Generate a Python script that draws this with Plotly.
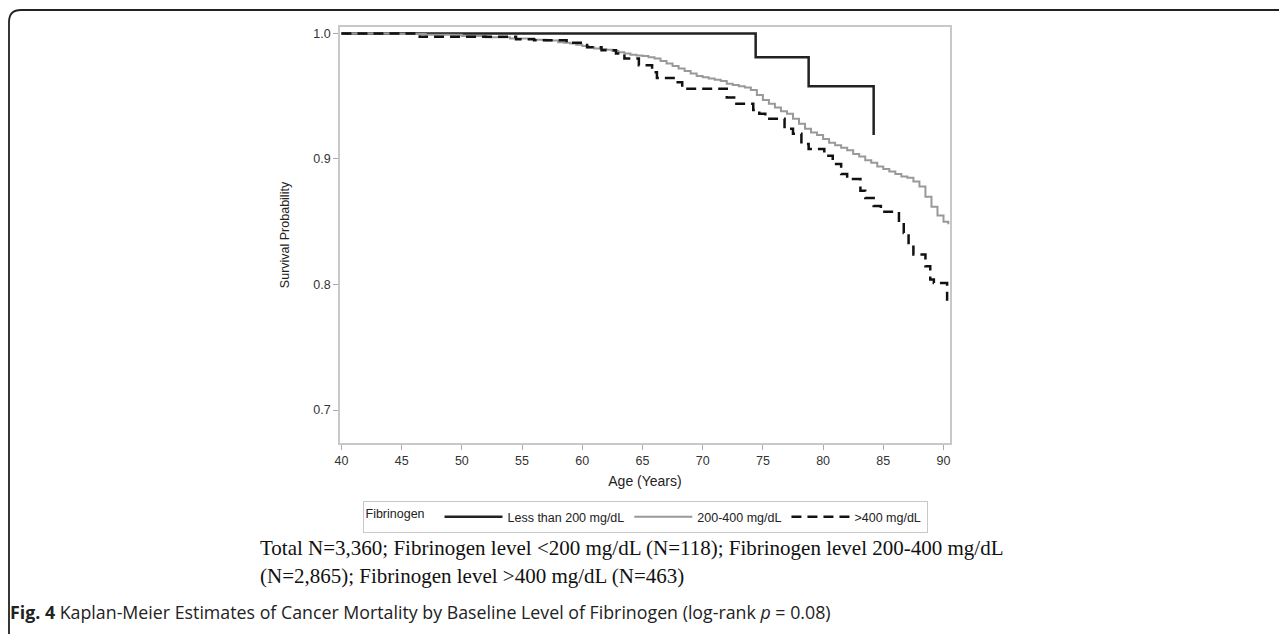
import plotly.graph_objects as go

# ---------------- data ----------------
age_low = [40, 74.4, 78.8, 84.2]
surv_low = [1.0, 0.981, 0.958, 0.919]

age_mid = [40, 44, 47, 50, 52, 54, 56, 57, 58, 58.5, 59, 59.5, 60, 60.5, 61, 61.5, 62, 62.5,
           63, 63.5, 64, 64.5, 65, 65.5, 66, 66.5, 67, 67.5, 68, 68.5, 69, 69.5, 70, 70.5,
           71, 71.5, 72, 72.5, 73, 73.5, 74, 74.5, 75, 75.5, 76, 76.5, 77, 77.5, 78, 78.5,
           79, 79.5, 80, 80.5, 81, 81.5, 82, 82.5, 83, 83.5, 84, 84.5, 85, 85.5, 86, 86.5,
           87, 87.5, 88, 88.5, 89, 89.5, 90, 90.4]
surv_mid = [1.0, 0.9995, 0.999, 0.998, 0.997, 0.996, 0.995, 0.9943, 0.993, 0.9925, 0.992, 0.991,
            0.990, 0.989, 0.988, 0.9875, 0.987, 0.986, 0.985, 0.984, 0.983, 0.9825, 0.982, 0.981,
            0.980, 0.978, 0.976, 0.974, 0.972, 0.970, 0.968, 0.966, 0.965, 0.964, 0.963, 0.962,
            0.960, 0.959, 0.958, 0.957, 0.955, 0.951, 0.947, 0.944, 0.941, 0.938, 0.936, 0.932,
            0.928, 0.924, 0.921, 0.919, 0.916, 0.913, 0.911, 0.909, 0.907, 0.904, 0.902, 0.899,
            0.897, 0.894, 0.892, 0.890, 0.888, 0.886, 0.885, 0.882, 0.878, 0.870, 0.862, 0.855,
            0.850, 0.848]

age_high = [40, 46.5, 54.5, 56.0, 58.7, 60.4, 61.6, 62.8, 63.5, 64.7, 65.8, 66.2, 67.8, 68.3,
            72.0, 72.8, 74.2, 74.7, 75.2, 76.8, 77.5, 78.2, 78.8, 80.1, 80.8, 81.5, 82.0,
            83.1, 83.5, 84.2, 84.8, 86.3, 86.7, 87.1, 87.5, 88.5, 88.9, 89.2, 90.3, 90.4]
surv_high = [1.0, 0.9973, 0.9954, 0.9946, 0.9925, 0.989, 0.9866, 0.984, 0.980, 0.9746, 0.969,
             0.9645, 0.961, 0.956, 0.949, 0.944, 0.939, 0.936, 0.932, 0.924, 0.920, 0.912,
             0.908, 0.9026, 0.896, 0.888, 0.884, 0.8746, 0.869, 0.8626, 0.858, 0.849, 0.841,
             0.832, 0.824, 0.8146, 0.804, 0.8013, 0.788, 0.788]

x_ticks = [40, 45, 50, 55, 60, 65, 70, 75, 80, 85, 90]
y_ticks = [0.7, 0.8, 0.9, 1.0]
y_tick_text = ["0.7", "0.8", "0.9", "1.0"]

names = ["Less than 200 mg/dL", "200-400 mg/dL", ">400 mg/dL"]

caption1 = "Total N=3,360; Fibrinogen level &lt;200 mg/dL (N=118); Fibrinogen level 200-400 mg/dL"
caption2 = "(N=2,865); Fibrinogen level &gt;400 mg/dL (N=463)"
fig_title = ("<b>Fig. 4</b> Kaplan-Meier Estimates of Cancer Mortality by Baseline Level of "
             "Fibrinogen (log-rank <i>p</i> = 0.08)")

# ---------------- geometry ----------------
O = 8                      # page body margin of the html page
W, H = 1287 - O, 634 - O
L, T = 340 - O, 27 - O
PW, PH = 610, 416
R, B = W - L - PW, H - T - PH


def px(xp):
    return (xp - O - L) / PW


def py(yp):
    return (H - B - (yp - O)) / PH


fig = go.Figure()
fig.add_trace(go.Scatter(x=age_low, y=surv_low, mode="lines", name=names[0],
                         line=dict(color="#222222", width=2.5, shape="hv")))
fig.add_trace(go.Scatter(x=age_mid, y=surv_mid, mode="lines", name=names[1],
                         line=dict(color="#999999", width=2, shape="hv")))
fig.add_trace(go.Scatter(x=age_high, y=surv_high, mode="lines", name=names[2],
                         line=dict(color="#111111", width=2.5, shape="hv", dash="10px,6px")))

axis_font = dict(family="Liberation Sans, Arial, sans-serif", size=12.5, color="#333333")

fig.update_layout(
    width=W, height=H, autosize=False,
    margin=dict(l=L, r=R, t=T, b=B),
    paper_bgcolor="white", plot_bgcolor="white",
    font=axis_font,
    showlegend=True,
    legend=dict(
        orientation="h", x=0.5, xanchor="center", y=py(501), yanchor="top",
        title=dict(text="Fibrinogen  ", side="left", font=dict(size=12.5, color="#222222")),
        font=dict(size=12.5, color="#222222"),
        bordercolor="#c8c8c8", borderwidth=1, bgcolor="white",
        itemwidth=58, tracegroupgap=0,
    ),
    xaxis=dict(
        range=[39.88, 90.54], tickvals=x_ticks, ticks="outside", ticklen=5,
        tickcolor="#aaaaaa", showline=True, linecolor="#c8c8c8", linewidth=1.5,
        mirror=True, showgrid=False, zeroline=False,
        title=dict(text="Age (Years)", standoff=9, font=dict(size=14, color="#222222")),
        tickfont=axis_font,
    ),
    yaxis=dict(
        range=[0.6738, 1.0051], tickvals=y_ticks, ticktext=y_tick_text, ticks="outside",
        ticklen=5, tickcolor="#aaaaaa", showline=True, linecolor="#c8c8c8", linewidth=1.5,
        mirror=True, showgrid=False, zeroline=False,
        title=dict(text="Survival Probability", standoff=21, font=dict(size=12.5, color="#222222")),
        tickfont=axis_font,
    ),
)

serif = dict(family="Liberation Serif, Times New Roman, serif", size=21, color="#111111")
fig.add_annotation(x=px(258), y=py(548), xref="paper", yref="paper", text=caption1,
                   showarrow=False, xanchor="left", yanchor="middle", font=serif)
fig.add_annotation(x=px(258), y=py(576), xref="paper", yref="paper", text=caption2,
                   showarrow=False, xanchor="left", yanchor="middle", font=serif)
fig.add_annotation(x=px(8), y=py(612), xref="paper", yref="paper", text=fig_title,
                   showarrow=False, xanchor="left", yanchor="middle",
                   font=dict(family="Open Sans, Noto Sans, sans-serif", size=17.8, color="#222222"))

# rounded frame (top-left corner)
r = 12
path = (f"M {px(9)} {py(640)} L {px(9)} {py(10 + r)} "
        f"Q {px(9)} {py(10)} {px(9 + r)} {py(10)} L {px(1300)} {py(10)}")
fig.add_shape(type="path", path=path, xref="paper", yref="paper",
              line=dict(color="#222222", width=1.8))

fig.write_html("out.html")
